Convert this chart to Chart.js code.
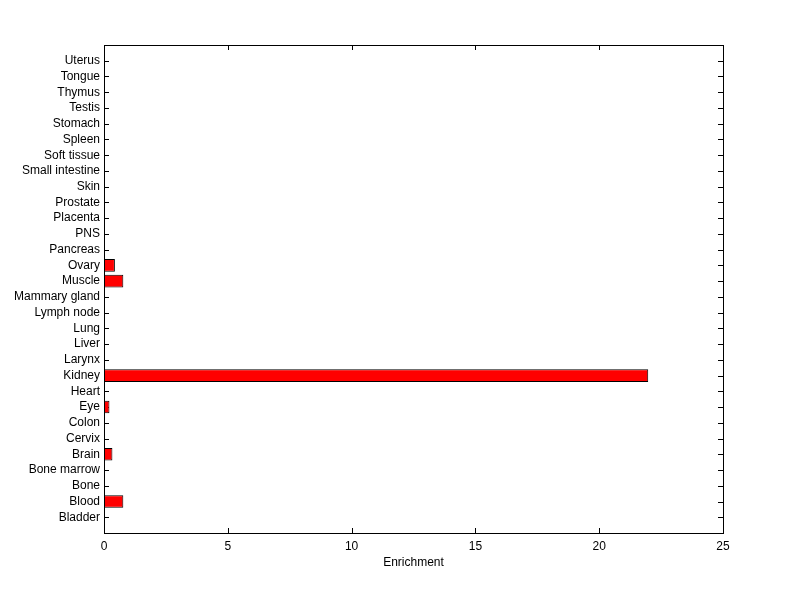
<!DOCTYPE html>
<html>
<head>
<meta charset="utf-8">
<script src="https://cdn.jsdelivr.net/npm/chart.js@4.4.1/dist/chart.umd.min.js"></script>
<style>
  html, body { margin: 0; padding: 0; background: #fff; }
  #wrap { width: 800px; height: 599px; }
</style>
</head>
<body>
<div id="wrap"><canvas id="chart" width="800" height="599"></canvas></div>
<script>
// tissues, bottom to top as in the figure
const tissues = ['Bladder', 'Blood', 'Bone', 'Bone marrow', 'Brain', 'Cervix', 'Colon', 'Eye',
    'Heart', 'Kidney', 'Larynx', 'Liver', 'Lung', 'Lymph node', 'Mammary gland', 'Muscle',
    'Ovary', 'Pancreas', 'PNS', 'Placenta', 'Prostate', 'Skin', 'Small intestine',
    'Soft tissue', 'Spleen', 'Stomach', 'Testis', 'Thymus', 'Tongue', 'Uterus'];
const enrichment = [0, 0.78, 0, 0, 0.34, 0, 0, 0.22,
    0, 21.98, 0, 0, 0, 0, 0, 0.78,
    0.44, 0, 0, 0, 0, 0, 0,
    0, 0, 0, 0, 0, 0, 0];
const xTicks = [0, 5, 10, 15, 20, 25];

// MATLAB leaves half a slot empty at each end, so pad the category list
const labels = [''].concat(tissues, ['']);
const values = [null].concat(enrichment, [null]);

const FONT = { family: "'Liberation Sans', Arial, Helvetica, sans-serif", size: 12 };

// box round the axes plus inward ticks on all four sides (drawn under the bars)
const matlabAxes = {
    id: 'matlabAxes',
    beforeDatasetsDraw(chart) {
        const ctx = chart.ctx;
        const a = chart.chartArea;
        const xs = chart.scales.x;
        const ys = chart.scales.y;
        const len = 5;
        ctx.save();
        ctx.strokeStyle = '#000';
        ctx.lineWidth = 1;
        ctx.beginPath();
        xs.ticks.forEach((t, i) => {
            const px = Math.round(xs.getPixelForTick(i)) + 0.5;
            ctx.moveTo(px, a.bottom);
            ctx.lineTo(px, a.bottom - len);
            ctx.moveTo(px, a.top);
            ctx.lineTo(px, a.top + len);
        });
        for (let i = 1; i < labels.length - 1; i++) {
            const py = Math.round(ys.getPixelForValue(i)) + 0.5;
            ctx.moveTo(a.left, py);
            ctx.lineTo(a.left + len, py);
            ctx.moveTo(a.right, py);
            ctx.lineTo(a.right - len, py);
        }
        ctx.stroke();
        ctx.restore();
    },
    afterDraw(chart) {
        const ctx = chart.ctx;
        const a = chart.chartArea;
        ctx.save();
        ctx.strokeStyle = '#000';
        ctx.lineWidth = 1;
        ctx.strokeRect(Math.round(a.left) + 0.5, Math.round(a.top) + 0.5,
            Math.round(a.right - a.left), Math.round(a.bottom - a.top));
        ctx.restore();
    }
};

new Chart(document.getElementById('chart'), {
    type: 'bar',
    data: {
        labels: labels,
        datasets: [{
            data: values,
            backgroundColor: '#FF0000',
            borderColor: '#000000',
            borderWidth: 1,
            borderSkipped: false,
            barPercentage: 0.8,
            categoryPercentage: 1.0
        }]
    },
    options: {
        indexAxis: 'y',
        responsive: false,
        animation: false,
        layout: { padding: { left: 0, right: 77, top: 45, bottom: 29 } },
        plugins: {
            legend: { display: false },
            tooltip: { enabled: false }
        },
        scales: {
            x: {
                type: 'linear',
                min: 0,
                max: 25,
                afterBuildTicks(scale) {
                    scale.ticks = xTicks.map(v => ({ value: v }));
                },
                afterFit(scale) { scale.height = 37; },
                grid: { display: false, drawTicks: false },
                border: { display: false },
                ticks: { color: '#000', font: FONT, padding: 6, maxRotation: 0 },
                title: {
                    display: true,
                    text: 'Enrichment',
                    color: '#000',
                    font: FONT,
                    padding: { top: 2, bottom: 0 }
                }
            },
            y: {
                type: 'category',
                reverse: true,
                offset: false,
                afterFit(scale) { scale.width = 104; },
                grid: { display: false, drawTicks: false },
                border: { display: false },
                ticks: { color: '#000', font: FONT, padding: 4, autoSkip: false }
            }
        }
    },
    plugins: [matlabAxes]
});
</script>
</body>
</html>
